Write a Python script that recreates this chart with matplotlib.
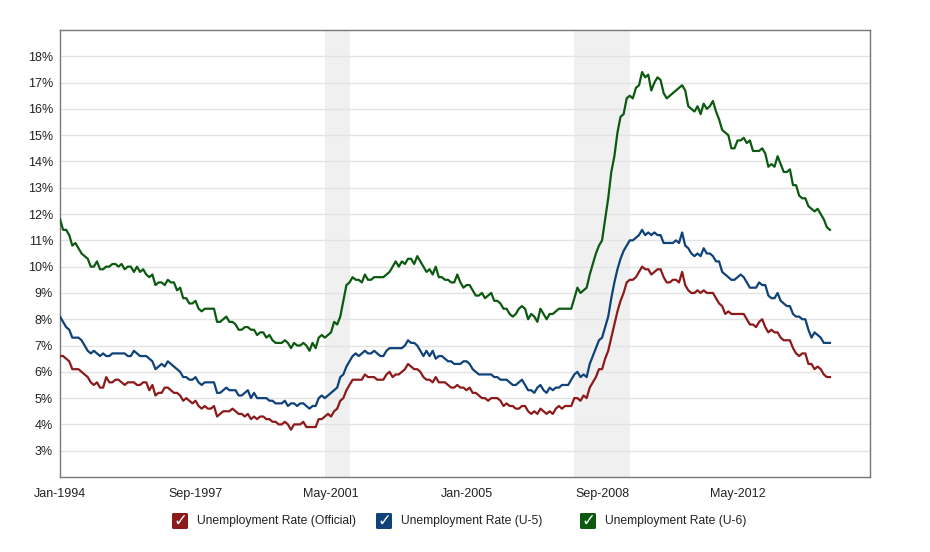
import numpy as np
import pandas as pd
import matplotlib
matplotlib.use("Agg")
import matplotlib.pyplot as plt
from matplotlib.patches import FancyBboxPatch

plt.rcParams['font.family'] = ['Liberation Sans', 'DejaVu Sans']

# monthly, Jan 1994 - Nov 2014
start = "1994-01"
u3 = [
    6.6, 6.6, 6.5, 6.4, 6.1, 6.1, 6.1, 6.0, 5.9, 5.8, 5.6, 5.5,
    5.6, 5.4, 5.4, 5.8, 5.6, 5.6, 5.7, 5.7, 5.6, 5.5, 5.6, 5.6,
    5.6, 5.5, 5.5, 5.6, 5.6, 5.3, 5.5, 5.1, 5.2, 5.2, 5.4, 5.4,
    5.3, 5.2, 5.2, 5.1, 4.9, 5.0, 4.9, 4.8, 4.9, 4.7, 4.6, 4.7,
    4.6, 4.6, 4.7, 4.3, 4.4, 4.5, 4.5, 4.5, 4.6, 4.5, 4.4, 4.4,
    4.3, 4.4, 4.2, 4.3, 4.2, 4.3, 4.3, 4.2, 4.2, 4.1, 4.1, 4.0,
    4.0, 4.1, 4.0, 3.8, 4.0, 4.0, 4.0, 4.1, 3.9, 3.9, 3.9, 3.9,
    4.2, 4.2, 4.3, 4.4, 4.3, 4.5, 4.6, 4.9, 5.0, 5.3, 5.5, 5.7,
    5.7, 5.7, 5.7, 5.9, 5.8, 5.8, 5.8, 5.7, 5.7, 5.7, 5.9, 6.0,
    5.8, 5.9, 5.9, 6.0, 6.1, 6.3, 6.2, 6.1, 6.1, 6.0, 5.8, 5.7,
    5.7, 5.6, 5.8, 5.6, 5.6, 5.6, 5.5, 5.4, 5.4, 5.5, 5.4, 5.4,
    5.3, 5.4, 5.2, 5.2, 5.1, 5.0, 5.0, 4.9, 5.0, 5.0, 5.0, 4.9,
    4.7, 4.8, 4.7, 4.7, 4.6, 4.6, 4.7, 4.7, 4.5, 4.4, 4.5, 4.4,
    4.6, 4.5, 4.4, 4.5, 4.4, 4.6, 4.7, 4.6, 4.7, 4.7, 4.7, 5.0,
    5.0, 4.9, 5.1, 5.0, 5.4, 5.6, 5.8, 6.1, 6.1, 6.5, 6.8, 7.3,
    7.8, 8.3, 8.7, 9.0, 9.4, 9.5, 9.5, 9.6, 9.8, 10.0, 9.9, 9.9,
    9.7, 9.8, 9.9, 9.9, 9.6, 9.4, 9.4, 9.5, 9.5, 9.4, 9.8, 9.3,
    9.1, 9.0, 9.0, 9.1, 9.0, 9.1, 9.0, 9.0, 9.0, 8.8, 8.6, 8.5,
    8.2, 8.3, 8.2, 8.2, 8.2, 8.2, 8.2, 8.0, 7.8, 7.8, 7.7, 7.9,
    8.0, 7.7, 7.5, 7.6, 7.5, 7.5, 7.3, 7.2, 7.2, 7.2, 6.9, 6.7,
    6.6, 6.7, 6.7, 6.3, 6.3, 6.1, 6.2, 6.1, 5.9, 5.8, 5.8,
]
u5 = [
    8.1, 7.9, 7.7, 7.6, 7.3, 7.3, 7.3, 7.2, 7.0, 6.8, 6.7, 6.8,
    6.7, 6.6, 6.7, 6.6, 6.6, 6.7, 6.7, 6.7, 6.7, 6.7, 6.6, 6.6,
    6.8, 6.7, 6.6, 6.6, 6.6, 6.5, 6.4, 6.1, 6.2, 6.3, 6.2, 6.4,
    6.3, 6.2, 6.1, 6.0, 5.8, 5.8, 5.7, 5.7, 5.8, 5.6, 5.5, 5.6,
    5.6, 5.6, 5.6, 5.2, 5.2, 5.3, 5.4, 5.3, 5.3, 5.3, 5.1, 5.1,
    5.2, 5.3, 5.0, 5.2, 5.0, 5.0, 5.0, 5.0, 4.9, 4.9, 4.8, 4.8,
    4.8, 4.9, 4.7, 4.8, 4.8, 4.7, 4.8, 4.8, 4.7, 4.6, 4.7, 4.7,
    5.0, 5.1, 5.0, 5.1, 5.2, 5.3, 5.4, 5.8, 5.9, 6.2, 6.4, 6.6,
    6.7, 6.6, 6.7, 6.8, 6.7, 6.7, 6.8, 6.7, 6.6, 6.6, 6.8, 6.9,
    6.9, 6.9, 6.9, 6.9, 7.0, 7.2, 7.1, 7.1, 7.0, 6.8, 6.6, 6.8,
    6.6, 6.8, 6.5, 6.6, 6.6, 6.5, 6.4, 6.4, 6.3, 6.3, 6.3, 6.4,
    6.4, 6.3, 6.1, 6.0, 5.9, 5.9, 5.9, 5.9, 5.9, 5.8, 5.8, 5.7,
    5.7, 5.7, 5.6, 5.5, 5.5, 5.6, 5.7, 5.5, 5.3, 5.3, 5.2, 5.4,
    5.5, 5.3, 5.2, 5.4, 5.3, 5.4, 5.4, 5.5, 5.5, 5.5, 5.7, 5.9,
    6.0, 5.8, 5.9, 5.8, 6.3, 6.6, 6.9, 7.2, 7.3, 7.7, 8.1, 8.8,
    9.4, 9.9, 10.3, 10.6, 10.8, 11.0, 11.0, 11.1, 11.2, 11.4, 11.2, 11.3,
    11.2, 11.3, 11.2, 11.2, 10.9, 10.9, 10.9, 10.9, 11.0, 10.9, 11.3, 10.8,
    10.7, 10.5, 10.4, 10.5, 10.4, 10.7, 10.5, 10.5, 10.4, 10.2, 10.2, 9.8,
    9.7, 9.6, 9.5, 9.5, 9.6, 9.7, 9.6, 9.4, 9.2, 9.2, 9.2, 9.4,
    9.3, 9.3, 8.9, 8.8, 8.8, 9.0, 8.7, 8.6, 8.5, 8.5, 8.2, 8.1,
    8.1, 8.0, 8.0, 7.6, 7.3, 7.5, 7.4, 7.3, 7.1, 7.1, 7.1,
]
u6 = [
    11.8, 11.4, 11.4, 11.2, 10.8, 10.9, 10.7, 10.5, 10.4, 10.3, 10.0, 10.0,
    10.2, 9.9, 9.9, 10.0, 10.0, 10.1, 10.1, 10.0, 10.1, 9.9, 10.0, 10.0,
    9.8, 10.0, 9.8, 9.9, 9.7, 9.6, 9.7, 9.3, 9.4, 9.4, 9.3, 9.5,
    9.4, 9.4, 9.1, 9.2, 8.8, 8.8, 8.6, 8.6, 8.7, 8.4, 8.3, 8.4,
    8.4, 8.4, 8.4, 7.9, 7.9, 8.0, 8.1, 7.9, 7.9, 7.8, 7.6, 7.6,
    7.7, 7.7, 7.6, 7.6, 7.4, 7.5, 7.5, 7.3, 7.4, 7.2, 7.1, 7.1,
    7.1, 7.2, 7.1, 6.9, 7.1, 7.0, 7.0, 7.1, 7.0, 6.8, 7.1, 6.9,
    7.3, 7.4, 7.3, 7.4, 7.5, 7.9, 7.8, 8.1, 8.7, 9.3, 9.4, 9.6,
    9.5, 9.5, 9.4, 9.7, 9.5, 9.5, 9.6, 9.6, 9.6, 9.6, 9.7, 9.8,
    10.0, 10.2, 10.0, 10.2, 10.1, 10.3, 10.3, 10.1, 10.4, 10.2, 10.0, 9.8,
    9.9, 9.7, 10.0, 9.6, 9.6, 9.5, 9.5, 9.4, 9.4, 9.7, 9.4, 9.2,
    9.3, 9.3, 9.1, 8.9, 8.9, 9.0, 8.8, 8.9, 9.0, 8.7, 8.7, 8.6,
    8.4, 8.4, 8.2, 8.1, 8.2, 8.4, 8.5, 8.4, 8.0, 8.2, 8.1, 7.9,
    8.4, 8.2, 8.0, 8.2, 8.2, 8.3, 8.4, 8.4, 8.4, 8.4, 8.4, 8.8,
    9.2, 9.0, 9.1, 9.2, 9.7, 10.1, 10.5, 10.8, 11.0, 11.8, 12.6, 13.6,
    14.2, 15.1, 15.7, 15.8, 16.4, 16.5, 16.4, 16.8, 16.9, 17.4, 17.2, 17.3,
    16.7, 17.0, 17.2, 17.1, 16.6, 16.4, 16.5, 16.6, 16.7, 16.8, 16.9, 16.7,
    16.1, 16.0, 15.9, 16.1, 15.8, 16.2, 16.0, 16.1, 16.3, 15.9, 15.6, 15.2,
    15.1, 15.0, 14.5, 14.5, 14.8, 14.8, 14.9, 14.7, 14.8, 14.4, 14.4, 14.4,
    14.5, 14.3, 13.8, 13.9, 13.8, 14.2, 13.9, 13.6, 13.6, 13.7, 13.1, 13.1,
    12.7, 12.6, 12.6, 12.3, 12.2, 12.1, 12.2, 12.0, 11.8, 11.5, 11.4,
]
labels = ["Unemployment Rate (Official)", "Unemployment Rate (U-5)", "Unemployment Rate (U-6)"]
colors = ["#8c1a1a", "#0f4279", "#0b5a0f"]
recessions = [("2001-03", "2001-11"), ("2007-12", "2009-06")]
tick_dates = ["1994-01", "1997-09", "2001-05", "2005-01", "2008-09", "2012-05"]
yticks = list(range(3, 19))

t0 = pd.Period(start, "M")
def midx(d):
    return (pd.Period(d, "M") - t0).n

x = np.arange(len(u3))

fig = plt.figure(figsize=(9.3, 5.52), dpi=100)
ax = fig.add_axes([60/930, 1-477/552, 810/930, 447/552])

for a, b in recessions:
    ax.axvspan(midx(a), midx(b), color="#f0f0f0", lw=0, zorder=0)

for ys, c in zip([u3, u5, u6], colors):
    ax.plot(x, ys, color=c, lw=1.6, zorder=3)

ax.set_xlim(0, 263)
ax.set_ylim(2, 19)
ax.set_yticks(yticks)
ax.set_yticklabels([f"{v}%" for v in yticks])
ax.set_xticks([midx(d) for d in tick_dates])
ax.set_xticklabels([pd.Period(d, "M").strftime("%b-%Y") for d in tick_dates])
ax.grid(axis="y", color="#e3e3e3", lw=1)
ax.set_axisbelow(True)
ax.tick_params(length=0, labelsize=9, colors="#222222")
ax.tick_params(axis="y", pad=5)
ax.tick_params(axis="x", pad=8)
for s in ax.spines.values():
    s.set_color("#777777")
    s.set_linewidth(1)

# legend with check boxes
leg_x = [172, 376, 580]
for lx, lab, c in zip(leg_x, labels, colors):
    fig.patches.append(FancyBboxPatch(((lx)/930, 1-529/552), 16/930, 16/552,
                                      boxstyle="round,pad=0,rounding_size=0.002",
                                      transform=fig.transFigure, fc=c, ec="none"))
    fig.text((lx+8)/930, 1-521/552, "\u2713", color="white", fontsize=12,
             ha="center", va="center", family="DejaVu Sans", fontweight="bold")
    fig.text((lx+25)/930, 1-521/552, lab, fontsize=8.7, color="#222222",
             ha="left", va="center")

fig.savefig("out.png", dpi=100)
